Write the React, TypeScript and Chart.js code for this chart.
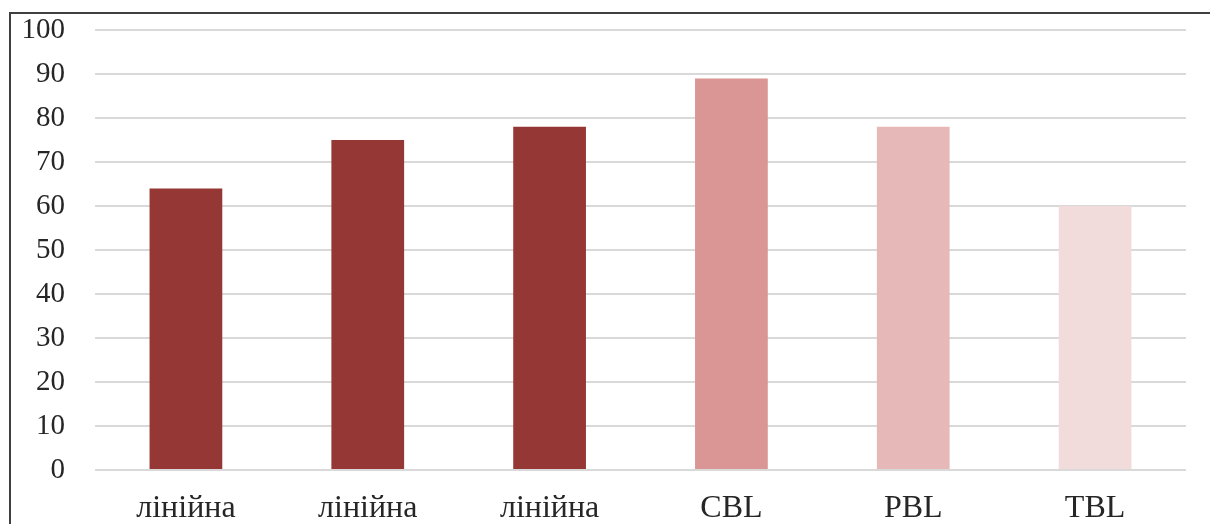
import React, { useEffect, useRef } from "react";
import { Chart, registerables } from "chart.js";

Chart.register(...registerables);

const categories = ["лінійна", "лінійна", "лінійна", "CBL", "PBL", "TBL"];
const values = [64, 75, 78, 89, 78, 60];
const barColors = ["#953735", "#953735", "#953735", "#D99694", "#E6B9B8", "#F2DCDB"];
const yTicks = [0, 10, 20, 30, 40, 50, 60, 70, 80, 90, 100];

export default function App() {
  const ref = useRef<HTMLCanvasElement | null>(null);
  useEffect(() => {
    if (!ref.current) return;
    const family = "'Liberation Serif', 'Times New Roman', serif";
    const chart = new Chart(ref.current, {
      type: "bar",
      data: {
        labels: categories,
        datasets: [
          {
            data: values,
            backgroundColor: barColors,
            barPercentage: 0.4,
            categoryPercentage: 1,
          },
        ],
      },
      options: {
        animation: false,
        responsive: false,
        maintainAspectRatio: false,
        layout: { padding: { left: 0, right: 24, top: 30, bottom: 0 } },
        plugins: { legend: { display: false }, tooltip: { enabled: false } },
        scales: {
          x: {
            grid: { display: false, drawTicks: false },
            border: { display: false },
            ticks: { font: { family, size: 32 }, color: "#262626", padding: 19, maxRotation: 0, autoSkip: false },
            afterFit: (s: any) => {
              s.height = 54;
              s.paddingLeft = 0;
              s.paddingRight = 0;
            },
          },
          y: {
            min: 0,
            max: 100,
            afterBuildTicks: (s: any) => {
              s.ticks = yTicks.map((v) => ({ value: v }));
            },
            grid: { color: "#D9D9D9", lineWidth: 2, drawTicks: false },
            border: { display: false },
            ticks: { font: { family, size: 29 }, color: "#262626", padding: 30 },
            afterFit: (s: any) => {
              s.width = 95;
              s.paddingTop = 0;
              s.paddingBottom = 0;
            },
          },
        },
      },
    });
    return () => chart.destroy();
  }, []);
  return (
    <div style={{ position: "fixed", left: 0, top: 0, width: 1210, height: 524, background: "#fff", overflow: "hidden" }}>
      <canvas ref={ref} width={1210} height={524} style={{ position: "absolute", left: 0, top: 0 }} />
      <div
        style={{
          position: "absolute",
          left: 9,
          top: 12,
          width: 1300,
          height: 600,
          borderLeft: "2px solid #404040",
          borderTop: "2px solid #404040",
          pointerEvents: "none",
        }}
      />
    </div>
  );
}
